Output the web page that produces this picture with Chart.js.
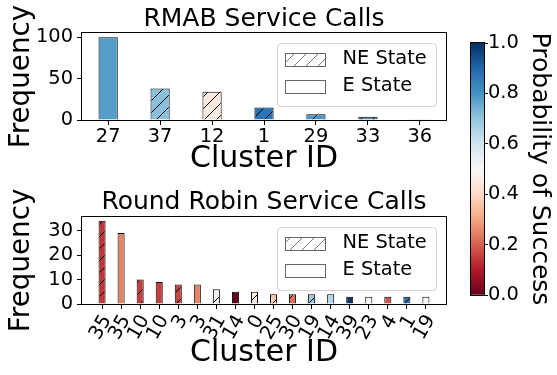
<!DOCTYPE html>
<html><head><meta charset="utf-8">
<script src="https://cdn.jsdelivr.net/npm/chart.js@4.4.0/dist/chart.umd.min.js"></script>
<style>
html,body{margin:0;padding:0;background:#fff;width:557px;height:375px;overflow:hidden}
canvas{position:absolute}
</style></head><body>
<canvas id="cb" width="97" height="375" style="left:460px;top:0"></canvas>
<canvas id="c1" width="528" height="180" style="left:0;top:0"></canvas>
<canvas id="c2" width="528" height="195" style="left:0;top:180px"></canvas>
<script>
// ---------- data ----------
const rmabClusters = ['27','37','12','1','29','33','36'];
const rmabFreq     = [100, 38, 34, 15, 7, 4, 1];
const rmabProb     = [0.78, 0.71, 0.45, 0.87, 0.79, 0.80, 0.90];
const rmabNE       = [false, true, true, true, true, true, false];
const rmabYTicks   = [0, 50, 100];

const rrClusters = ['35','35','10','10','3','3','31','14','0','25','30','19','14','39','23','4','1','19'];
const rrFreq     = [34, 29, 10, 9, 8, 8, 6, 5, 5, 4, 4, 4, 4, 3, 3, 3, 3, 3];
const rrProb     = [0.14,0.25,0.15,0.15,0.16,0.25,0.53,0.0,0.45,0.365,0.22,0.68,0.645,0.99,0.50,0.185,0.88,0.50];
const rrNE       = [true,false,true,false,true,false,true,false,true,true,true,true,false,false,false,false,true,false];
const rrYTicks   = [0, 10, 20, 30];

const legendLabels = ['NE State', 'E State'];
const cbTicks = [0, 0.2, 0.4, 0.6, 0.8, 1.0];

// ---------- colormap (RdBu) ----------
const RdBu = [[103,0,31],[178,24,43],[214,96,77],[244,165,130],[253,219,199],[247,247,247],
              [209,229,240],[146,197,222],[67,147,195],[33,102,172],[5,48,97]];
function cmap(p){
  p = Math.max(0, Math.min(1, p));
  const f = p * 10, i = Math.min(9, Math.floor(f)), t = f - i;
  const a = RdBu[i], b = RdBu[i+1];
  const c = a.map((v,k)=>Math.round(v + (b[k]-v)*t));
  return `rgb(${c[0]},${c[1]},${c[2]})`;
}
function hatch(fill, line){
  const s = 12, cv = document.createElement('canvas');
  cv.width = s; cv.height = s;
  const g = cv.getContext('2d');
  g.fillStyle = fill; g.fillRect(0,0,s,s);
  g.strokeStyle = line; g.lineWidth = 1;
  g.beginPath();
  for (const o of [-s, 0, s]) { g.moveTo(o, s); g.lineTo(o + s, 0); }
  g.stroke();
  return g.createPattern(cv, 'repeat');
}

Chart.defaults.font.family = "'DejaVu Sans', sans-serif";
Chart.defaults.color = '#000';

const framePlugin = {
  id: 'frame',
  afterDatasetsDraw(chart){
    const {ctx, chartArea: ca} = chart;
    ctx.save();
    ctx.strokeStyle = '#000'; ctx.lineWidth = 1;
    ctx.strokeRect(Math.round(ca.left) - 0.5, Math.round(ca.top) - 0.5,
                   Math.round(ca.right - ca.left) + 1, Math.round(ca.bottom - ca.top) + 1);
    ctx.restore();
  }
};

const legendPlugin = {
  id: 'mplLegend',
  afterDraw(chart){
    const {ctx, chartArea: ca} = chart;
    const w = 159, h = 63, r = 4;
    const x = Math.round(ca.right) - 10 - w + 0.5, y = Math.round(ca.top) + 10 + 0.5;
    ctx.save();
    ctx.beginPath();
    ctx.moveTo(x + r, y); ctx.lineTo(x + w - r, y); ctx.arcTo(x + w, y, x + w, y + r, r);
    ctx.lineTo(x + w, y + h - r); ctx.arcTo(x + w, y + h, x + w - r, y + h, r);
    ctx.lineTo(x + r, y + h); ctx.arcTo(x, y + h, x, y + h - r, r);
    ctx.lineTo(x, y + r); ctx.arcTo(x, y, x + r, y, r); ctx.closePath();
    ctx.fillStyle = 'rgba(255,255,255,0.8)'; ctx.fill();
    ctx.strokeStyle = 'rgba(204,204,204,0.9)'; ctx.lineWidth = 1; ctx.stroke();
    legendLabels.forEach((lab, i) => {
      const cy = y + 15.5 + i * 27;
      const px = x + 8, py = Math.round(cy - 6.5) + 0.5;
      ctx.fillStyle = i === 0 ? hatch('#fff', '#777') : '#fff';
      ctx.fillRect(px, py, 40, 13);
      ctx.strokeStyle = '#666'; ctx.lineWidth = 1;
      ctx.strokeRect(px, py, 40, 13);
      ctx.fillStyle = '#000';
      ctx.font = "19.4px 'DejaVu Sans'";
      ctx.textBaseline = 'middle'; ctx.textAlign = 'left';
      ctx.fillText(lab, x + 65, cy);
    });
    ctx.restore();
  }
};

function barChart(id, cats, freq, prob, ne, yTicks, o){
  const colors = prob.map((p, i) => ne[i] ? hatch(cmap(p), '#000') : cmap(p));
  const n = cats.length, bw = 0.37, m = bw / 2 + 0.05 * (n - 1 + bw);
  return new Chart(document.getElementById(id), {
    type: 'bar',
    data: { datasets: [{
      data: freq.map((v, i) => ({x: i, y: v})),
      backgroundColor: colors, borderColor: '#000', borderWidth: 1,
      barPercentage: bw, categoryPercentage: 1
    }]},
    options: {
      responsive: false, animation: false, devicePixelRatio: 1,
      layout: { padding: 0 },
      plugins: {
        legend: { display: false }, tooltip: { enabled: false },
        title: { display: true, text: o.title, font: { size: 25, lineHeight: 1, weight: 'normal' },
                 color: '#000', padding: o.titlePad }
      },
      scales: {
        x: {
          type: 'linear', min: -m, max: n - 1 + m, bounds: 'data', offset: false,
          grid: { display: true, drawOnChartArea: false, drawTicks: true, tickLength: 5, color: '#000', offset: false },
          border: { display: false },
          afterBuildTicks: s => { s.ticks = cats.map((_, i) => ({ value: i })); },
          ticks: { autoSkip: false, minRotation: o.rot, maxRotation: o.rot, padding: o.tickPad,
                   labelOffset: o.labelOffset, font: { size: 19.4 }, color: '#000',
                   callback: v => cats[Math.round(v)] },
          title: { display: true, text: 'Cluster ID', font: { size: 30, lineHeight: 1 }, color: '#000',
                   padding: { top: 0, bottom: o.xTitleBottom } },
          afterFit: s => { s.height = o.xHeight; }
        },
        y: {
          min: 0, max: o.ymax, bounds: 'data',
          afterBuildTicks: s => { s.ticks = yTicks.map(v => ({ value: v })); },
          grid: { display: true, drawOnChartArea: false, drawTicks: true, tickLength: 5, color: '#000' },
          border: { display: false },
          ticks: { padding: 4, font: { size: 19.4 }, color: '#000' },
          title: { display: true, text: 'Frequency', font: { size: 27.8, lineHeight: 1 }, color: '#000',
                   padding: { top: o.yTitleTop, bottom: 0 } },
          afterFit: s => { s.width = 82; }
        },
        // empty spacer axis on the right so the title centres over the plot area
        yRight: {
          type: 'linear', position: 'right', display: true, min: 0, max: 1,
          grid: { display: false }, border: { display: false }, ticks: { display: false },
          afterFit: s => { s.width = 82; }
        }
      }
    },
    plugins: [framePlugin, legendPlugin]
  });
}

barChart('c1', rmabClusters, rmabFreq, rmabProb, rmabNE, rmabYTicks, {
  title: 'RMAB Service Calls', titlePad: { top: 7, bottom: 1 },
  rot: 0, tickPad: 0, labelOffset: 0, xTitleBottom: 6, xHeight: 60,
  ymax: 105, yTitleTop: 8
});
barChart('c2', rrClusters, rrFreq, rrProb, rrNE, rrYTicks, {
  title: 'Round Robin Service Calls', titlePad: { top: 10, bottom: 1.7 },
  rot: 60, tickPad: 2, labelOffset: 5, xTitleBottom: 7, xHeight: 71,
  ymax: 35.7, yTitleTop: 8
});

// ---------- colorbar ----------
new Chart(document.getElementById('cb'), {
  type: 'bar',
  data: { labels: [''], datasets: [{
    data: [1], borderWidth: 0, barPercentage: 1, categoryPercentage: 1,
    backgroundColor: (c) => {
      const ca = c.chart.chartArea; if (!ca) return '#fff';
      const g = c.chart.ctx.createLinearGradient(0, ca.bottom, 0, ca.top);
      for (let i = 0; i <= 20; i++) g.addColorStop(i / 20, cmap(i / 20));
      return g;
    }
  }]},
  options: {
    responsive: false, animation: false, devicePixelRatio: 1,
    layout: { padding: { top: 43, bottom: 80, left: 11, right: 0 } },
    plugins: { legend: { display: false }, tooltip: { enabled: false } },
    scales: {
      x: { display: false },
      y: {
        position: 'right', min: 0, max: 1, bounds: 'data',
        afterBuildTicks: s => { s.ticks = cbTicks.map(v => ({ value: v })); },
        grid: { display: true, drawOnChartArea: false, drawTicks: true, tickLength: 4, color: '#000' },
        border: { display: false },
        ticks: { padding: 0, font: { size: 19.4 }, color: '#000', callback: v => Number(v).toFixed(1) },
        title: { display: true, text: 'Probability of Success', font: { size: 25, lineHeight: 1 }, color: '#000',
                 padding: { top: 5, bottom: 0 } },
        afterFit: s => { s.width = 73; }
      }
    }
  },
  plugins: [framePlugin]
});
</script>
</body></html>
